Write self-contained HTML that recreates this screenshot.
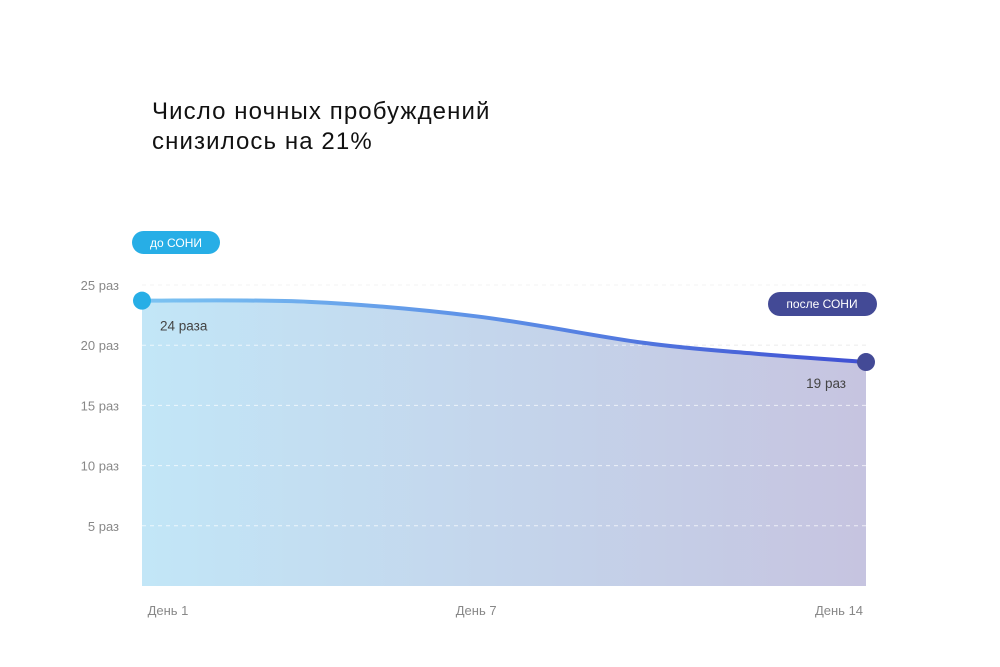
<!DOCTYPE html>
<html><head><meta charset="utf-8"><style>
body{margin:0;background:#fff;font-family:"Liberation Sans","Noto Sans CJK SC",sans-serif}
svg{display:block}
</style></head><body>
<svg width="1000" height="667" viewBox="0 0 1000 667">
<defs>
<linearGradient id="area" x1="0" x2="1" y1="0" y2="0"><stop offset="0" stop-color="#c2e6f7"/><stop offset="1" stop-color="#c6c4e0"/></linearGradient>
<linearGradient id="ln" x1="0" x2="1" y1="0" y2="0"><stop offset="0" stop-color="#7cc4f2"/><stop offset="0.5" stop-color="#5b8de6"/><stop offset="1" stop-color="#3f4fd2"/></linearGradient>
</defs>
<text x="152" y="119" font-size="24" letter-spacing="1.1" fill="#111">Число ночных пробуждений</text>
<text x="152" y="149" font-size="24" letter-spacing="1.1" fill="#111">снизилось на 21%</text>
<g id="grid"></g><g id="yt"></g><g id="xt"></g>
<path id="areaP" fill="url(#area)"/>
<g id="grid2"></g>
<path id="lineP" fill="none" stroke="url(#ln)" stroke-width="4"/>
<g id="marks"></g>
</svg>
<script>
const days=[1,4,7,10,12,14];
const values=[23.7,23.6,22.4,20.2,19.3,18.6];
const yTicks=[5,10,15,20,25];
const xTicks=[1,7,14];
const xTickLabels=["День 1","День 7","День 14"];
const ns="http://www.w3.org/2000/svg";
const X=d=>142+(d-1)*(724/13), Y=v=>586-v*12.04;
function mk(t,a,p){const e=document.createElementNS(ns,t);for(const k in a)e.setAttribute(k,a[k]);document.getElementById(p).appendChild(e);return e;}
yTicks.forEach(v=>{
 const l=mk('line',{x1:142,x2:866,y1:Y(v),y2:Y(v),stroke:'#d8d8d8','stroke-dasharray':'4 4'},'grid');
 
 
 const l2=mk('line',{x1:142,x2:866,y1:Y(v),y2:Y(v),stroke:'#ffffff','stroke-opacity':0.7,'stroke-dasharray':'4 4'},'grid2');
 
 
 const t=mk('text',{x:119,y:Y(v)+5,'text-anchor':'end','font-size':13,fill:'#888'},'yt');t.textContent=v+' раз';
 
 
});
xTicks.forEach((d,i)=>{
 const t=mk('text',{x:X(d)+(i==0?26:i==2?-27:0),y:615,'text-anchor':'middle','font-size':13,fill:'#888'},'xt');t.textContent=xTickLabels[i];
 
 
});
const pts=days.map((d,i)=>[X(d),Y(values[i])]);
let p='M'+pts[0][0]+','+pts[0][1];
for(let i=0;i<pts.length-1;i++){const a=pts[Math.max(0,i-1)],b=pts[i],c=pts[i+1],e=pts[Math.min(pts.length-1,i+2)];
 const c1=[b[0]+(c[0]-a[0])/6,b[1]+(c[1]-a[1])/6],c2=[c[0]-(e[0]-b[0])/6,c[1]-(e[1]-b[1])/6];
 p+=' C'+c1+' '+c2+' '+c;}
document.getElementById('lineP').setAttribute('d',p);
document.getElementById('areaP').setAttribute('d',p+' L'+X(14)+','+Y(0)+' L'+X(1)+','+Y(0)+'Z');
const s=pts[0],e=pts[pts.length-1];
let c=mk('circle',{cx:s[0],cy:s[1],r:9,fill:'#27aee6'},'marks');


c=mk('circle',{cx:e[0],cy:e[1],r:9,fill:'#434a96'},'marks');


let t=mk('text',{x:160,y:s[1]+30,'font-size':13.5,fill:'#444'},'marks');t.textContent=Math.round(values[0])+' раза';


t=mk('text',{x:846,y:e[1]+26,'font-size':13.5,fill:'#444','text-anchor':'end'},'marks');t.textContent=Math.round(values[values.length-1])+' раз';


let r=mk('rect',{x:132,y:231,width:88,height:23,rx:11.5,fill:'#27aee6'},'marks');


t=mk('text',{x:176,y:247,'font-size':12,fill:'#fff','text-anchor':'middle'},'marks');t.textContent='до СОНИ';


r=mk('rect',{x:768,y:292,width:109,height:24,rx:12,fill:'#434a96'},'marks');


t=mk('text',{x:822,y:308,'font-size':12,fill:'#fff','text-anchor':'middle'},'marks');t.textContent='после СОНИ';


</script>
</body></html>
